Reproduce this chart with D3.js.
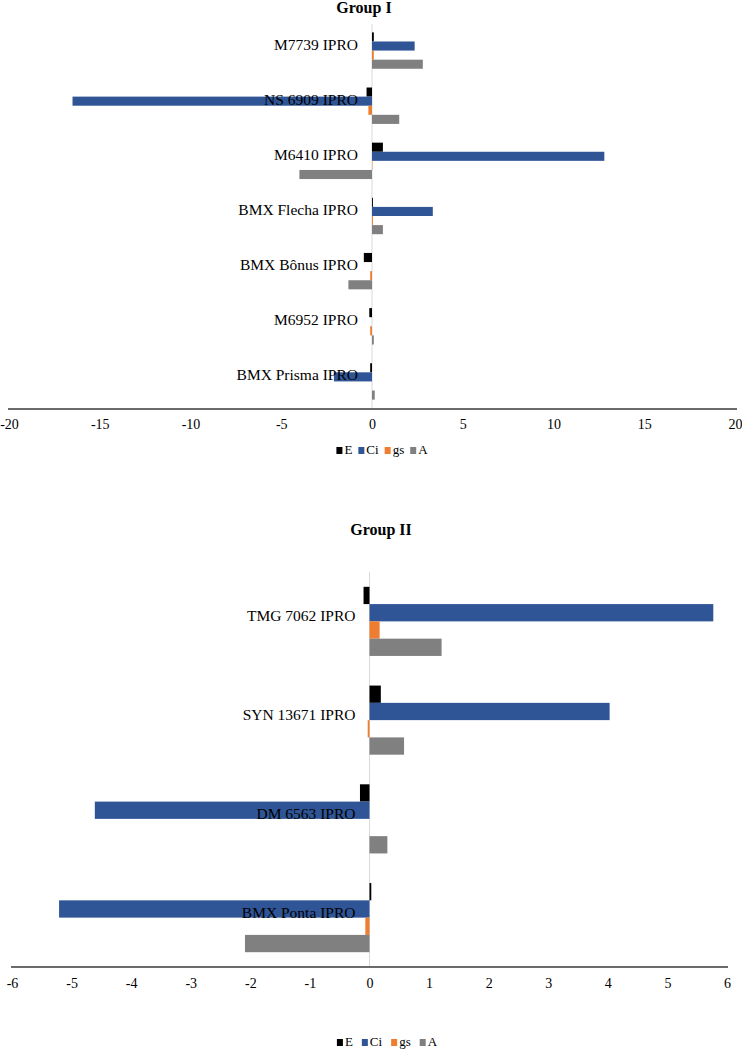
<!DOCTYPE html>
<html>
<head>
<meta charset="utf-8">
<script src="https://cdn.jsdelivr.net/npm/d3@7"></script>
<style>
  html, body { margin: 0; padding: 0; background: #fff; }
  svg { display: block; }
  text { font-family: "Liberation Serif", "Times New Roman", serif; fill: #000; }
</style>
</head>
<body>
<svg id="chart" width="742" height="1049"></svg>
<script>
// ---- data ----
const seriesNames = ["E", "Ci", "gs", "A"];
const seriesColors = ["#000000", "#2F5597", "#ED7D31", "#808080"];

const group1Title = "Group I";
const group1Categories = ["M7739 IPRO", "NS 6909 IPRO", "M6410 IPRO", "BMX Flecha IPRO", "BMX Bônus IPRO", "M6952 IPRO", "BMX Prisma IPRO"];
const group1E  = [0.1, -0.3, 0.6, 0.05, -0.45, -0.15, -0.1];
const group1Ci = [2.35, -16.5, 12.8, 3.35, 0.0, 0.0, -2.1];
const group1Gs = [0.1, -0.2, 0.02, 0.05, -0.1, -0.1, 0.0];
const group1A  = [2.8, 1.5, -4.0, 0.6, -1.3, 0.1, 0.15];
const group1Ticks = [-20, -15, -10, -5, 0, 5, 10, 15, 20];

const group2Title = "Group II";
const group2Categories = ["TMG 7062 IPRO", "SYN 13671 IPRO", "DM 6563 IPRO", "BMX Ponta IPRO"];
const group2E  = [-0.1, 0.19, -0.16, 0.03];
const group2Ci = [5.77, 4.03, -4.61, -5.21];
const group2Gs = [0.17, -0.03, 0.0, -0.07];
const group2A  = [1.21, 0.58, 0.3, -2.09];
const group2Ticks = [-6, -5, -4, -3, -2, -1, 0, 1, 2, 3, 4, 5, 6];

// ---- drawing ----
const svg = d3.select("#chart");

function drawPanel(cfg) {
  const g = svg.append("g");
  const values = [cfg.E, cfg.Ci, cfg.Gs, cfg.A];
  const rows = cfg.categories.map((c, i) => ({
    cat: c,
    vals: seriesNames.map((s, k) => ({ key: s, color: seriesColors[k], v: values[k][i] }))
  }));

  const x = d3.scaleLinear().domain(d3.extent(cfg.ticks)).range(cfg.xRange);
  const y = d3.scaleBand().domain(cfg.categories).range(cfg.yRange)
    .paddingInner(cfg.pad).paddingOuter(cfg.pad / 2);
  const ys = d3.scaleBand().domain(seriesNames).range([0, y.bandwidth()]);

  // title
  g.append("text").attr("x", cfg.titleX).attr("y", cfg.titleY)
    .attr("text-anchor", "middle").attr("font-weight", "bold").attr("font-size", 16)
    .text(cfg.title);

  // zero line
  g.append("line")
    .attr("x1", x(0)).attr("x2", x(0))
    .attr("y1", cfg.zeroTop).attr("y2", cfg.yRange[1])
    .attr("stroke", "#d9d9d9").attr("stroke-width", 1);

  // bars
  const cg = g.selectAll("g.cat").data(rows).join("g")
    .attr("transform", d => `translate(0,${y(d.cat)})`);
  cg.selectAll("rect").data(d => d.vals).join("rect")
    .attr("x", d => x(Math.min(0, d.v)))
    .attr("width", d => Math.abs(x(d.v) - x(0)))
    .attr("y", d => ys(d.key))
    .attr("height", ys.bandwidth())
    .attr("fill", d => d.color);

  // category labels
  g.selectAll("text.cat").data(cfg.categories).join("text")
    .attr("class", "cat")
    .attr("x", x(0) - 14)
    .attr("y", d => y(d) + y.bandwidth() / 2 + cfg.labelDy)
    .attr("text-anchor", "end")
    .attr("font-size", 15.5)
    .text(d => d);

  // x axis
  const axis = d3.axisBottom(x).tickValues(cfg.ticks).tickSize(0).tickPadding(0)
    .tickFormat(d => String(d));
  const ax = g.append("g").attr("transform", `translate(0,${cfg.yRange[1]})`).call(axis);
  ax.attr("font-family", null);
  ax.select(".domain").attr("stroke", "#3a3a3a").attr("stroke-width", 1.6)
    .attr("d", `M${cfg.axisLine[0]},0H${cfg.axisLine[1]}`);
  ax.selectAll(".tick text")
    .attr("font-family", "Liberation Serif, serif")
    .attr("font-size", 14).attr("fill", "#000")
    .attr("dy", null).attr("y", cfg.tickBaseline);

  // legend
  const lg = g.append("g");
  let cx = 0;
  seriesNames.forEach((s, k) => {
    lg.append("rect").attr("x", cx).attr("y", -7).attr("width", 6).attr("height", 7)
      .attr("fill", seriesColors[k]);
    const t = lg.append("text").attr("x", cx + 8).attr("y", 0).attr("font-size", 13).text(s);
    cx += 8 + t.node().getComputedTextLength() + cfg.legendGap;
  });
  const total = cx - cfg.legendGap;
  lg.attr("transform", `translate(${cfg.legendCenter - total / 2},${cfg.legendY})`);
}

drawPanel({
  title: group1Title, titleX: 364, titleY: 13,
  categories: group1Categories, E: group1E, Ci: group1Ci, Gs: group1Gs, A: group1A,
  ticks: group1Ticks, xRange: [9, 735], yRange: [23, 409], pad: 0.34,
  zeroTop: 24, axisLine: [8, 737], tickBaseline: 20, labelDy: -1,
  legendCenter: 382, legendY: 454, legendGap: 6
});

drawPanel({
  title: group2Title, titleX: 381, titleY: 535,
  categories: group2Categories, E: group2E, Ci: group2Ci, Gs: group2Gs, A: group2A,
  ticks: group2Ticks, xRange: [12, 727], yRange: [572, 967], pad: 0.3,
  zeroTop: 572, axisLine: [11, 728], tickBaseline: 21, labelDy: 0,
  legendCenter: 387, legendY: 1046, legendGap: 9
});
</script>
</body>
</html>
